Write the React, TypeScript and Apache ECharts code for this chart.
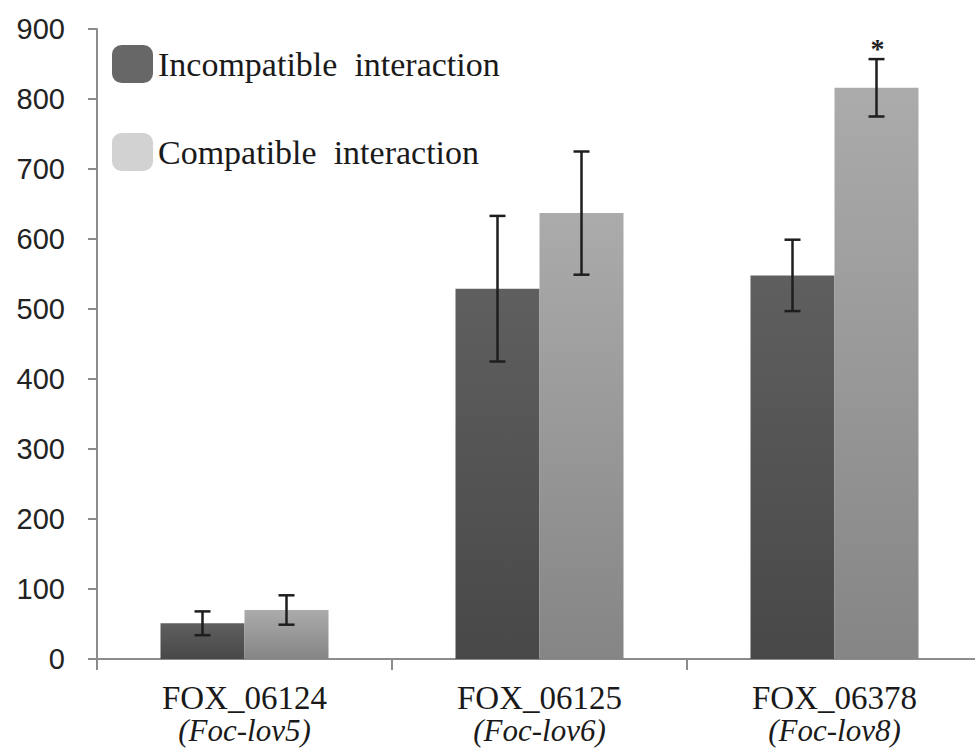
import React, { useEffect, useRef } from "react";
import * as echarts from "echarts";

const categories = ["FOX_06124", "FOX_06125", "FOX_06378"];
const subLabels = ["(Foc-lov5)", "(Foc-lov6)", "(Foc-lov8)"];
const incompatible = [51, 529, 548];
const incompatibleErr = [17, 104, 51];
const compatible = [70, 637, 816];
const compatibleErr = [21, 88, 41];
const significance = ["", "", "*"];
const yTicks = { min: 0, max: 900, interval: 100 };

const NAME_A = "Incompatible  interaction";
const NAME_B = "Compatible  interaction";

const BAR_W = 84;

function errorSeries(name: string, means: number[], errs: number[], offset: number, sig: string[] | null) {
  return {
    type: "custom",
    name: name + " error",
    z: 10,
    silent: true,
    data: means.map((m, i) => [i, m, errs[i]]),
    encode: { x: 0, y: 1 },
    renderItem: (params: any, api: any) => {
      const i = api.value(0);
      const m = api.value(1);
      const e = api.value(2);
      const top = api.coord([i, m + e]);
      const bot = api.coord([i, m - e]);
      const x = top[0] + offset;
      const style = { stroke: "#1e1e1e", lineWidth: 2.5 };
      const children: any[] = [
        { type: "line", shape: { x1: x, y1: top[1], x2: x, y2: bot[1] }, style },
        { type: "line", shape: { x1: x - 8, y1: top[1], x2: x + 8, y2: top[1] }, style },
        { type: "line", shape: { x1: x - 8, y1: bot[1], x2: x + 8, y2: bot[1] }, style },
      ];
      const s = sig ? sig[params.dataIndex] : "";
      if (s) {
        children.push({
          type: "text",
          x: x + 1,
          y: top[1] + 3,
          style: {
            text: s,
            fill: "#222",
            font: "bold 28px 'Liberation Serif', serif",
            align: "center",
            verticalAlign: "bottom",
          },
        });
      }
      return { type: "group", children };
    },
  };
}

export default function App() {
  const ref = useRef<HTMLDivElement>(null);
  useEffect(() => {
    if (!ref.current) return;
    const chart = echarts.init(ref.current, null, { renderer: "svg" });
    const darkGrad = new echarts.graphic.LinearGradient(0, 0, 0, 1, [
      { offset: 0, color: "#5f5f5f" },
      { offset: 1, color: "#484848" },
    ]);
    const lightGrad = new echarts.graphic.LinearGradient(0, 0, 0, 1, [
      { offset: 0, color: "#ababab" },
      { offset: 1, color: "#858585" },
    ]);
    chart.setOption({
      animation: false,
      backgroundColor: "#ffffff",
      grid: {
        left: 97,
        top: 29,
        width: 885,
        height: 630,
        containLabel: false,
        outerBoundsMode: "none",
      },
      legend: {
        orient: "vertical",
        left: 107,
        top: 32,
        itemWidth: 41,
        itemHeight: 38,
        itemGap: 34,
        selectedMode: false,
        icon: "roundRect",
        textStyle: {
          fontFamily: "'Liberation Serif', serif",
          fontSize: 34,
          lineHeight: 38,
          color: "#1a1a1a",
          padding: [16, 0, 0, 0],
        },
        data: [
          { name: NAME_A, itemStyle: { color: "#676767" } },
          { name: NAME_B, itemStyle: { color: "#d2d2d2" } },
        ],
      },
      xAxis: {
        type: "category",
        data: categories,
        axisLine: { show: true, lineStyle: { color: "#8c8c8c", width: 2 } },
        axisTick: { show: true, length: 11, lineStyle: { color: "#8c8c8c", width: 2 } },
        axisLabel: {
          margin: 22,
          formatter: (v: string, i: number) => `{a|${v}}\n{b|${subLabels[i]}}`,
          rich: {
            a: { fontFamily: "'Liberation Serif', serif", fontSize: 33, lineHeight: 34, color: "#1a1a1a" },
            b: {
              fontFamily: "'Liberation Serif', serif",
              fontSize: 31,
              fontStyle: "italic",
              lineHeight: 31,
              color: "#1a1a1a",
            },
          },
        },
      },
      yAxis: {
        type: "value",
        min: yTicks.min,
        max: yTicks.max,
        interval: yTicks.interval,
        splitLine: { show: false },
        axisLine: { show: true, lineStyle: { color: "#8c8c8c", width: 2 } },
        axisTick: { show: true, length: 9, lineStyle: { color: "#8c8c8c", width: 2 } },
        axisLabel: {
          margin: 32,
          fontFamily: "'Liberation Sans', Arial, sans-serif",
          fontSize: 29,
          color: "#222",
        },
      },
      series: [
        {
          type: "bar",
          name: NAME_A,
          data: incompatible,
          barWidth: BAR_W,
          barGap: "0%",
          itemStyle: { color: darkGrad },
        },
        {
          type: "bar",
          name: NAME_B,
          data: compatible,
          barWidth: BAR_W,
          barGap: "0%",
          itemStyle: { color: lightGrad },
        },
        errorSeries(NAME_A, incompatible, incompatibleErr, -BAR_W / 2, null),
        errorSeries(NAME_B, compatible, compatibleErr, BAR_W / 2, significance),
      ],
    });
    return () => chart.dispose();
  }, []);
  return (
    <div
      ref={ref}
      style={{ position: "fixed", left: 0, top: 0, width: 975, height: 751 }}
    />
  );
}
